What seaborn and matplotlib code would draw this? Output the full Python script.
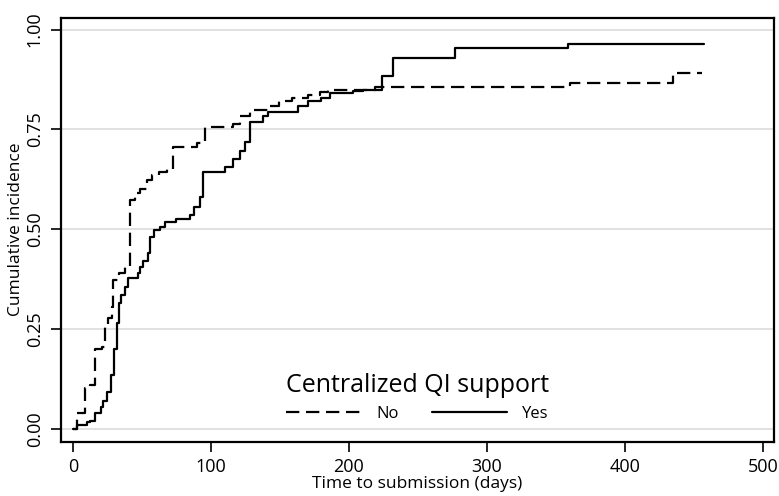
import pandas as pd
import seaborn as sns
import matplotlib.pyplot as plt

# values (step points: day, cumulative incidence)
no_days = [0, 3, 9, 12, 16, 21, 23, 25.5, 28, 29, 33, 38, 41, 45, 48.5, 53.5, 57, 62, 68, 72.5,
           90, 96, 116, 121, 128, 143, 149, 159, 170, 179, 185, 219, 360, 435, 456]
no_inc = [0, 0.04, 0.1025, 0.11, 0.2, 0.205, 0.255, 0.278, 0.305, 0.372, 0.39, 0.405, 0.5725, 0.59,
          0.6, 0.6225, 0.635, 0.643, 0.65, 0.705, 0.715, 0.755, 0.765, 0.785, 0.8, 0.81, 0.822,
          0.83, 0.837, 0.843, 0.848, 0.857, 0.8675, 0.8925, 0.8925]

yes_days = [0, 3, 10, 12, 16, 20, 22, 25, 27.5, 30, 32, 33, 35, 38, 40, 47, 48.5, 51, 54, 56, 59,
            63, 67, 75, 85, 88, 92, 94, 110, 116, 121, 125, 128, 138, 141, 163, 170, 180, 186,
            203, 210, 224, 232, 277, 359, 457]
yes_inc = [0, 0.01, 0.018, 0.02, 0.04, 0.055, 0.07, 0.093, 0.135, 0.2, 0.265, 0.315, 0.335, 0.355,
           0.377, 0.39, 0.405, 0.42, 0.44, 0.48, 0.4975, 0.505, 0.518, 0.527, 0.535, 0.555, 0.58,
           0.643, 0.655, 0.677, 0.697, 0.718, 0.77, 0.785, 0.793, 0.81, 0.822, 0.83, 0.842,
           0.847, 0.85, 0.885, 0.93, 0.953, 0.965, 0.965]

groups = ['No', 'Yes']
x_ticks = [0, 100, 200, 300, 400, 500]
y_ticks = [0, 0.25, 0.5, 0.75, 1.0]
y_tick_labels = ['0.00', '0.25', '0.50', '0.75', '1.00']

df = pd.concat([
    pd.DataFrame({'time': no_days, 'inc': no_inc, 'group': 'No'}),
    pd.DataFrame({'time': yes_days, 'inc': yes_inc, 'group': 'Yes'}),
])

# style
sns.set_theme(style="white")
plt.rcParams['font.family'] = ['Open Sans', 'DejaVu Sans']
plt.rcParams['text.color'] = 'black'
plt.rcParams['axes.labelcolor'] = 'black'
plt.rcParams['xtick.color'] = 'black'
plt.rcParams['ytick.color'] = 'black'

fig = plt.figure(figsize=(7.79, 4.96), dpi=100)
ax = fig.add_axes([0.0783, 0.1095, 0.9153, 0.8548])

sns.lineplot(x='time', y='inc', data=df, style='group', style_order=groups,
             dashes={'No': (6, 3), 'Yes': ''}, color='black', lw=1.6,
             drawstyle='steps-post', estimator=None, sort=False, ax=ax)

ax.set_xlim(-8.7, 508)
ax.set_ylim(-0.032, 1.03)
ax.set_xticks(x_ticks)
ax.set_yticks(y_ticks)
ax.set_yticklabels(y_tick_labels, rotation=90, va='center')
ax.tick_params(axis='both', direction='out', length=7, width=1.2, labelsize=13,
               bottom=True, left=True)
ax.tick_params(axis='x', pad=5)
ax.tick_params(axis='y', pad=5.5)
ax.yaxis.grid(True, color='#dedede', lw=1.3)
ax.xaxis.grid(False)
for s in ax.spines.values():
    s.set_color('black')
    s.set_linewidth(1.6)

ax.set_xlabel('Time to submission (days)', fontsize=12.5, labelpad=0)
ax.set_ylabel('Cumulative incidence', fontsize=12.5, labelpad=1)

handles, labels = ax.get_legend_handles_labels()
for h in handles:
    h.set_linewidth(1.6)
leg = ax.legend(handles, labels, title='Centralized QI support', ncol=2,
                loc='lower center', bbox_to_anchor=(0.5, 0.015), fontsize=12,
                title_fontsize=18, frameon=True, handlelength=4.5, handletextpad=0.9,
                columnspacing=2.0, borderpad=0.3, fancybox=False)
leg.get_frame().set_edgecolor('none')
leg.get_frame().set_facecolor('white')
leg.get_frame().set_alpha(1)

plt.savefig('out.png', dpi=100)
